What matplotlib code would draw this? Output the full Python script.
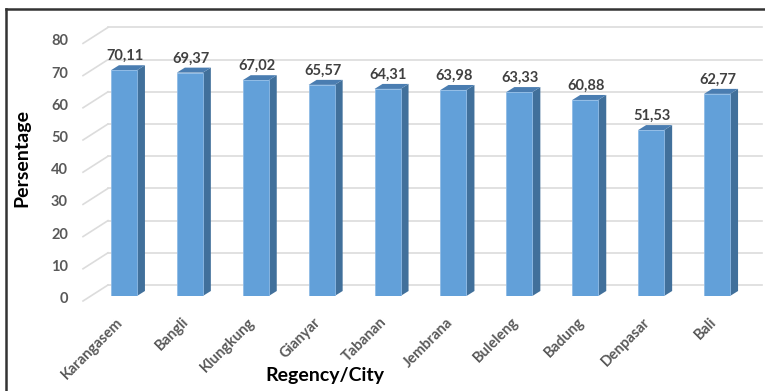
import numpy as np
import matplotlib.pyplot as plt
from matplotlib.patches import Polygon, Rectangle
import matplotlib.transforms as mtransforms

regions = ['Karangasem', 'Bangli', 'Klungkung', 'Gianyar', 'Tabanan',
           'Jembrana', 'Buleleng', 'Badung', 'Denpasar', 'Bali']
values = [70.11, 69.37, 67.02, 65.57, 64.31, 63.98, 63.33, 60.88, 51.53, 62.77]
yticks = [0, 10, 20, 30, 40, 50, 60, 70, 80]

plt.rcParams['font.family'] = ['Lato', 'DejaVu Sans']

W, H = 765, 391
fig = plt.figure(figsize=(W / 100, H / 100), dpi=100)

# axes placed so that the front floor sits at y=296 px and 80 at ~38 px
x0, x1 = 91, 750
yb, yt = 296, 38.4
ax = fig.add_axes([x0 / W, (H - yb) / H, (x1 - x0) / W, (yb - yt) / H])
ax.set_xlim(-0.5, 9.5)
ax.set_ylim(0, 80)
ax.axis('off')

sx = (x1 - x0) / 10          # px per category
sy = (yb - yt) / 80          # px per percent

def off(dx, dy):
    # shift in pixels (dy positive = up)
    return mtransforms.offset_copy(ax.transData, fig=fig, x=dx, y=dy, units='dots')

# back wall gridlines with the slanted side edges on the left
grid_c = '#dcdcdc'
xl = -0.5 + (108 - x0) / sx
xr = -0.5 + (762 - x0) / sx
for v in yticks:
    ax.plot([xl, xr], [v, v], color=grid_c, lw=1.2, transform=off(0, 11),
            clip_on=False, zorder=1)
    ax.plot([xl - 25 / sx, xl], [v - 16 / sy, v], color=grid_c, lw=1.2,
            transform=off(0, 11), clip_on=False, zorder=1)

# y tick labels
for v in yticks:
    ax.text(-0.5, v, str(v), transform=off(-23, -3), ha='right', va='center',
            fontsize=10.5, fontweight='bold', color='#595959', clip_on=False)

# 3d-looking bars
bw = 26 / sx
ddx, ddy = 8 / sx, 5 / sy
front_c, side_c, top_c = '#62a0d9', '#41709b', '#4a7db1'
for i, v in enumerate(values):
    xa, xb = i - bw / 2, i + bw / 2
    side = Polygon([(xb, 0), (xb + ddx, ddy), (xb + ddx, v + ddy), (xb, v)],
                   closed=True, facecolor=side_c, edgecolor='none', zorder=3)
    top = Polygon([(xa, v), (xb, v), (xb + ddx, v + ddy), (xa + ddx, v + ddy)],
                  closed=True, facecolor=top_c, edgecolor='none', zorder=3)
    front = Rectangle((xa, 0), bw, v, facecolor=front_c, edgecolor='#8fbbe6',
                      lw=0.6, zorder=4)
    for p in (side, top, front):
        ax.add_patch(p)
    ax.text(i, v, f'{v:.2f}'.replace('.', ','), transform=off(1, 14),
            ha='center', va='center', fontsize=10.5, fontweight='bold',
            color='#404040', zorder=5)
    ax.text(i, 0, regions[i], transform=off(-3, -24), ha='right', va='center',
            rotation=45, rotation_mode='anchor', fontsize=10.5, fontweight='bold',
            color='#595959', clip_on=False)

# axis titles
fig.text(22 / W, 1 - 158 / H, 'Persentage', rotation=90, ha='center',
         va='center', fontsize=14, fontweight='bold', color='black')
fig.text(325 / W, 1 - 376 / H, 'Regency/City', ha='center', va='center',
         fontsize=14, fontweight='bold', color='black')

# outer frame (top and left edges visible)
fig.add_artist(plt.Line2D([6 / W, 1], [1 - 9 / H, 1 - 9 / H], color='#333333',
                          lw=1.8, transform=fig.transFigure))
fig.add_artist(plt.Line2D([6 / W, 6 / W], [0, 1 - 9 / H], color='#333333',
                          lw=1.8, transform=fig.transFigure))

fig.savefig('out.png', dpi=100)
